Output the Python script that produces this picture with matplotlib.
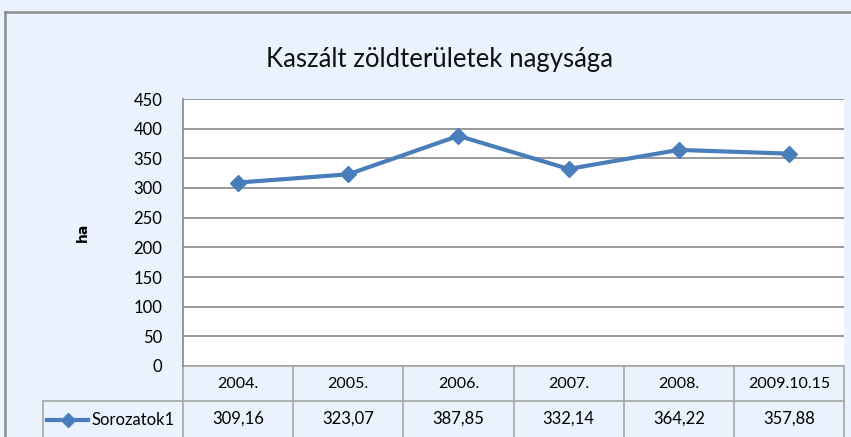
import matplotlib
matplotlib.use('Agg')
import matplotlib.pyplot as plt
from matplotlib.lines import Line2D

years = ['2004.', '2005.', '2006.', '2007.', '2008.', '2009.10.15']
values = [309.16, 323.07, 387.85, 332.14, 364.22, 357.88]
labels = ['309,16', '323,07', '387,85', '332,14', '364,22', '357,88']
series = 'Sorozatok1'

W, H = 851, 437
bg = '#E9F2FD'
blue = '#4A7EBB'
grid = '#878787'
tline = '#A6A6A6'

plt.rcParams['font.family'] = ['Lato', 'DejaVu Sans']

fig = plt.figure(figsize=(W / 100, H / 100), dpi=100, facecolor=bg)


def fx(x):
    return x / W


def fy(y):
    return 1 - y / H


# outer border (top and left)
fig.add_artist(Line2D([fx(5), 1], [fy(12), fy(12)], color='#8C8C8C', lw=1.8))
fig.add_artist(Line2D([fx(5), fx(5)], [fy(12), 0], color='#8C8C8C', lw=1.8))

fig.text(fx(440), fy(60), 'Kaszált zöldterületek nagysága', ha='center', va='center',
         fontsize=18.5, color='#111111')

ax = fig.add_axes([fx(183), fy(366), (844 - 183) / W, (366 - 99) / H])
ax.set_facecolor('white')
x = list(range(len(values)))
ax.plot(x, values, color=blue, lw=3, marker='D', markersize=8, zorder=3)
ax.set_xlim(-0.5, len(values) - 0.5)
ax.set_ylim(0, 450)
ax.set_yticks(range(0, 451, 50))
ax.set_xticks([])
ax.yaxis.grid(True, color=grid, lw=1.2)
ax.set_axisbelow(True)
ax.tick_params(axis='y', length=0, pad=15, labelsize=12)
for s in ['top', 'right', 'bottom']:
    ax.spines[s].set_visible(False)
ax.spines['left'].set_color(grid)
ax.spines['left'].set_linewidth(1.2)
ax.set_ylabel('ha', fontweight='bold', fontsize=10, labelpad=31, family='DejaVu Sans')

# data table below the plot
tr = ax.get_xaxis_transform()
plot_h = 366 - 99
y_top = 0
y_mid = -(401 - 366) / plot_h
y_bot = -(437 - 366) / plot_h
n = len(values)
ax.add_line(Line2D([-0.5, n - 0.5], [y_top, y_top], transform=tr, color=tline, lw=1.2, clip_on=False))
for i in range(n + 1):
    ax.add_line(Line2D([i - 0.5, i - 0.5], [y_top, y_bot], transform=tr, color=tline, lw=1.2, clip_on=False))
ax.add_line(Line2D([-0.5, n - 0.5], [y_mid, y_mid], transform=tr, color=tline, lw=1.2, clip_on=False))
for i, (yr, lab) in enumerate(zip(years, labels)):
    ax.text(i, (y_top + y_mid) / 2, yr, transform=tr, ha='center', va='center', fontsize=11.5, clip_on=False)
    ax.text(i, (y_mid + y_bot) / 2, lab, transform=tr, ha='center', va='center', fontsize=12, clip_on=False)

# row label cell
fig.add_artist(Line2D([fx(43), fx(183)], [fy(401), fy(401)], color=tline, lw=1.2))
fig.add_artist(Line2D([fx(43), fx(43)], [fy(401), 0], color=tline, lw=1.2))
fig.add_artist(Line2D([fx(47), fx(68), fx(88)], [fy(420)] * 3, color=blue, lw=3,
                      marker='D', markersize=7, markevery=[1]))
fig.text(fx(91), fy(420), series, ha='left', va='center', fontsize=12)

fig.savefig('out.png', dpi=100, facecolor=bg)
